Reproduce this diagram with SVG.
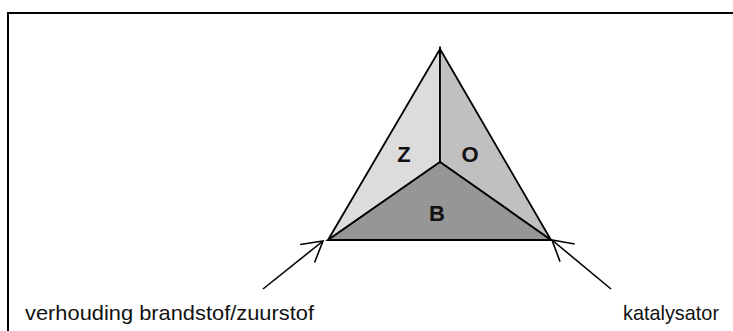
<svg xmlns="http://www.w3.org/2000/svg" width="733" height="331" viewBox="0 0 733 331">
<style>
.edge{fill:none;stroke:#000;stroke-width:1.6;stroke-linejoin:miter}
.face{stroke:#000;stroke-width:1.8;stroke-linejoin:miter}
.lbl{font-family:"Liberation Sans",Arial,sans-serif;font-weight:bold;font-size:22px;fill:#111;text-anchor:middle}
.cap{font-family:"Liberation Sans",Arial,sans-serif;font-size:21px;fill:#111}
</style>
<defs>
<marker id="open" viewBox="-22 -13 24 26" refX="0" refY="0" markerWidth="24" markerHeight="26" markerUnits="userSpaceOnUse" orient="auto">
<path d="M-20,-11.5 L0,0 L-20,11.5" fill="none" stroke="#000" stroke-width="1.6"/>
</marker>
</defs>
<rect x="0" y="0" width="733" height="331" fill="#fff"/>
<rect x="8" y="13" width="740" height="340" fill="none" stroke="#000" stroke-width="2"/>
<g id="face-Z">
<polygon class="face" points="440,49 440,162 328,240" fill="#dcdcdc"/>
<text class="lbl" x="404" y="162">Z</text>
</g>
<g id="face-O">
<polygon class="face" points="440,49 551,240 440,162" fill="#c0c0c0"/>
<text class="lbl" x="470" y="162">O</text>
</g>
<g id="face-B">
<polygon class="face" points="328,240 440,162 551,240" fill="#969696"/>
<text class="lbl" x="437" y="221">B</text>
</g>
<g id="label-left">
<text class="cap" x="25" y="320" textLength="289" lengthAdjust="spacingAndGlyphs">verhouding brandstof/zuurstof</text>
</g>
<g id="label-right">
<text class="cap" x="623" y="320" textLength="96" lengthAdjust="spacingAndGlyphs">katalysator</text>
</g>
<g id="connectors">
<line class="edge" x1="263" y1="289" x2="323" y2="241" marker-end="url(#open)"/>
<line class="edge" x1="611" y1="289" x2="552" y2="240" marker-end="url(#open)"/>
</g>
</svg>
